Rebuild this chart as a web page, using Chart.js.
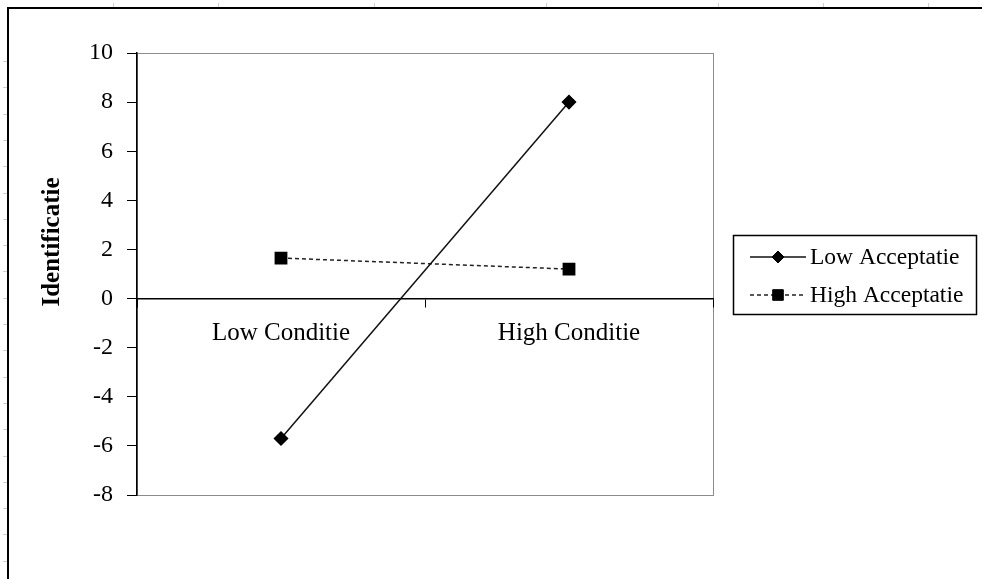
<!DOCTYPE html>
<html>
<head>
<meta charset="utf-8">
<title>Identificatie</title>
<script src="https://cdn.jsdelivr.net/npm/chart.js@4.4.1/dist/chart.umd.min.js"></script>
<style>
  html, body { margin: 0; padding: 0; background: #fff; }
  #wrap { width: 982px; height: 579px; position: relative; }
</style>
</head>
<body>
<div id="wrap"><canvas id="myChart" width="982" height="579"></canvas></div>
<script>
// data
var categories = ["Low Conditie", "High Conditie"];
var seriesNames = ["Low Acceptatie", "High Acceptatie"];
var lowAcceptatie = [-5.7, 8.0];
var highAcceptatie = [1.65, 1.2];
var yMin = -8, yMax = 10, yStep = 2;
var yTitle = "Identificatie";

var serif = "'Liberation Serif', 'Times New Roman', serif";

// sheet border, plot frame, axis title and legend box
var decor = {
    id: "decor",
    beforeDraw: function(chart) {
        var ctx = chart.ctx, a = chart.chartArea;
        ctx.save();
        ctx.fillStyle = "#fff";
        ctx.fillRect(0, 0, chart.width, chart.height);

        // faint ruler marks
        ctx.strokeStyle = "#d0d0d0";
        ctx.lineWidth = 1;
        [113, 218, 374, 546, 718, 823, 928].forEach(function(x) {
            ctx.beginPath(); ctx.moveTo(x + 0.5, 3); ctx.lineTo(x + 0.5, 7); ctx.stroke();
        });
        for (var y = 61; y < chart.height; y += 26.3) {
            ctx.beginPath(); ctx.moveTo(3, Math.round(y) + 0.5); ctx.lineTo(7, Math.round(y) + 0.5); ctx.stroke();
        }

        // sheet border
        ctx.strokeStyle = "#000";
        ctx.lineWidth = 2;
        ctx.beginPath();
        ctx.moveTo(chart.width, 8);
        ctx.lineTo(8, 8);
        ctx.lineTo(8, chart.height);
        ctx.stroke();

        // plot frame
        ctx.strokeStyle = "#8c8c8c";
        ctx.lineWidth = 1;
        ctx.strokeRect(Math.round(a.left) + 0.5, Math.round(a.top) + 0.5, Math.round(a.right - a.left), Math.round(a.bottom - a.top));
        ctx.restore();
    },
    afterDraw: function(chart) {
        var ctx = chart.ctx;
        ctx.save();

        // y axis title
        ctx.translate(53, 242);
        ctx.rotate(-Math.PI / 2);
        ctx.font = "bold 25px " + serif;
        ctx.fillStyle = "#000";
        ctx.textAlign = "center";
        ctx.textBaseline = "middle";
        ctx.fillText(yTitle, 0, 0);
        ctx.restore();

        // legend
        ctx.save();
        ctx.strokeStyle = "#000";
        ctx.lineWidth = 1.5;
        ctx.strokeRect(733.5, 235.5, 243, 79);
        var rows = [257, 295];
        chart.data.datasets.forEach(function(ds, i) {
            var y = rows[i];
            ctx.save();
            ctx.strokeStyle = ds.borderColor;
            ctx.lineWidth = ds.borderWidth;
            ctx.setLineDash(ds.borderDash || []);
            ctx.beginPath(); ctx.moveTo(750, y); ctx.lineTo(806, y); ctx.stroke();
            ctx.restore();
            ctx.fillStyle = ds.pointBackgroundColor;
            ctx.strokeStyle = ds.pointBorderColor;
            ctx.lineWidth = 1;
            Chart.helpers.drawPoint(ctx, { pointStyle: ds.pointStyle, radius: ds.pointRadius - 0.5, borderWidth: 1, rotation: 0 }, 778, y);
            ctx.font = "23.5px " + serif;
            ctx.fillStyle = "#000";
            ctx.textAlign = "left";
            ctx.textBaseline = "middle";
            ctx.fillText(ds.label, 810, y + 1);
        });
        ctx.restore();
    }
};

var ctx = document.getElementById("myChart").getContext("2d");
var chart = new Chart(ctx, {
    type: "line",
    data: {
        labels: categories,
        datasets: [{
            label: seriesNames[0],
            data: lowAcceptatie,
            borderColor: "#111",
            borderWidth: 1.5,
            pointStyle: "rectRot",
            pointRadius: 6.5,
            pointBackgroundColor: "#000",
            pointBorderColor: "#000",
            tension: 0
        }, {
            label: seriesNames[1],
            data: highAcceptatie,
            borderColor: "#222",
            borderWidth: 1.5,
            borderDash: [4, 3],
            pointStyle: "rect",
            pointRadius: 8,
            pointBackgroundColor: "#000",
            pointBorderColor: "#000",
            tension: 0
        }]
    },
    options: {
        responsive: false,
        animation: false,
        devicePixelRatio: 1,
        layout: { padding: { left: 0, top: 53, right: 269, bottom: 84 } },
        plugins: {
            legend: { display: false },
            tooltip: { enabled: false }
        },
        scales: {
            y: {
                min: yMin,
                max: yMax,
                ticks: {
                    stepSize: yStep,
                    color: "#000",
                    padding: 14,
                    font: { family: serif, size: 24 }
                },
                grid: { drawOnChartArea: false, tickLength: 10, color: "#000", lineWidth: 1 },
                border: { color: "#000", width: 1.5 },
                afterFit: function(scale) { scale.width = 137; }
            },
            x: {
                position: { y: 0 },
                offset: true,
                ticks: {
                    color: "#000",
                    padding: 12,
                    font: { family: serif, size: 25 }
                },
                grid: { offset: true, drawOnChartArea: false, tickLength: 8, color: "#000", lineWidth: 1 },
                border: { color: "#000", width: 1.5 }
            }
        }
    },
    plugins: [decor]
});
</script>
</body>
</html>
